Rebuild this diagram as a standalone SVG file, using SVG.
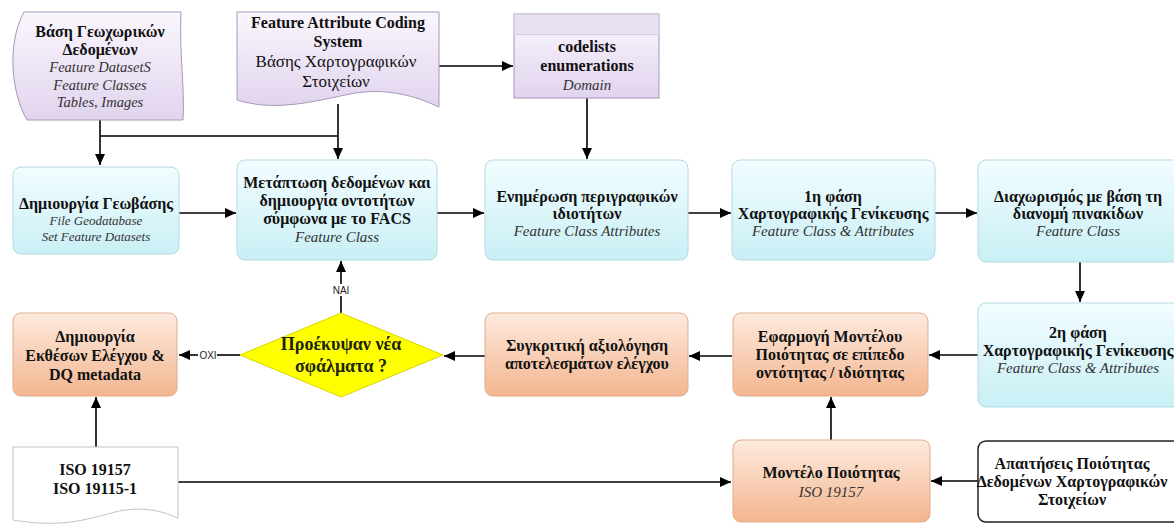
<svg xmlns="http://www.w3.org/2000/svg" width="1174" height="527" viewBox="0 0 1174 527">
  <defs>
    <linearGradient id="gCyan" x1="0" y1="0" x2="0" y2="1">
      <stop offset="0" stop-color="#f2fdff"/>
      <stop offset="1" stop-color="#c9eff5"/>
    </linearGradient>
    <linearGradient id="gPeach" x1="0" y1="0" x2="0" y2="1">
      <stop offset="0" stop-color="#fdeadf"/>
      <stop offset="1" stop-color="#f3b68f"/>
    </linearGradient>
    <linearGradient id="gLav" x1="0" y1="0" x2="0" y2="1">
      <stop offset="0" stop-color="#faf6fd"/>
      <stop offset="1" stop-color="#e1d4ee"/>
    </linearGradient>
    <marker id="arr" viewBox="0 0 11 10" refX="11" refY="5" markerWidth="11" markerHeight="10" markerUnits="userSpaceOnUse" orient="auto">
      <path d="M0,0 L11,5 L0,10 Z" fill="#000"/>
    </marker>
    <style>
      .cyan { fill: url(#gCyan); stroke: #b3dbe2; stroke-width: 1; }
      .peach { fill: url(#gPeach); stroke: #e2ab8a; stroke-width: 1; }
      .lav { fill: url(#gLav); stroke: #a898b8; stroke-width: 1; }
      .plain { fill: #fff; stroke: #222; stroke-width: 1.5; }
      .paper { fill: #fff; stroke: #c4c4c4; stroke-width: 1; }
      .dia { fill: #ffff00; stroke: #d6d600; stroke-width: 1; }
      text { font-family: "Liberation Serif", "Times New Roman", serif; fill: #111; text-anchor: middle; }
      .b { font-weight: bold; font-size: 16px; }
      .r { font-size: 17px; }
      .i { font-style: italic; font-size: 15px; fill: #333; }
      .i13 { font-size: 13px; }
      .i14 { font-size: 14.5px; }
      .dt { font-weight: bold; font-size: 18px; fill: #1c2410; }
      .lbl { font-family: "Liberation Sans", Arial, sans-serif; font-size: 10px; fill: #222; }
      .c { fill: none; stroke: #000; stroke-width: 1.6; }
      .ca { fill: none; stroke: #000; stroke-width: 1.6; marker-end: url(#arr); }
    </style>
  </defs>

  <!-- connectors -->
  <g id="connectors">
    <path class="ca" d="M100,120 V165"/>
    <path class="c" d="M100,136 H338"/>
    <path class="ca" d="M338,104 V159"/>
    <path class="ca" d="M439,66 H513"/>
    <path class="ca" d="M587,98 V159"/>
    <path class="ca" d="M179,213 H236"/>
    <path class="ca" d="M437,213 H484"/>
    <path class="ca" d="M688,213 H731"/>
    <path class="ca" d="M935,213 H977"/>
    <path class="ca" d="M1080,262 V302"/>
    <path class="ca" d="M978,355 H929"/>
    <path class="ca" d="M732,356 H689"/>
    <path class="ca" d="M485,356 H444"/>
    <path class="c" d="M341,313 V296"/>
    <path class="ca" d="M341,284 V261"/>
    <text class="lbl" x="341" y="294">NAI</text>
    <path class="c" d="M240,355 H217"/>
    <path class="ca" d="M198,355 H179"/>
    <text class="lbl" x="208" y="359">OXI</text>
    <path class="ca" d="M96,450 V397"/>
    <path class="ca" d="M178,482 H731"/>
    <path class="ca" d="M831,440 V397"/>
    <path class="ca" d="M978,481 H931"/>
  </g>

  <!-- source documents -->
  <g id="doc-geodata">
    <path class="lav" d="M24,12 H181 C179,50 185,90 183,120 H27 C12,95 6,45 24,12 Z"/>
    <text class="b" x="100" y="37">Βάση Γεωχωρικών</text>
    <text class="b" x="100" y="55">Δεδομένων</text>
    <text class="i i14" x="100" y="72">Feature DatasetS</text>
    <text class="i i14" x="100" y="90">Feature Classes</text>
    <text class="i i14" x="100" y="107">Tables, Images</text>
  </g>

  <g id="doc-facs">
    <path class="lav" d="M237,12 H439 V107 C415,96 385,86 345,95 C300,105 270,110 237,100 Z"/>
    <text class="b" x="338" y="28">Feature Attribute Coding</text>
    <text class="b" x="338" y="47">System</text>
    <text class="r" x="336" y="67">Βάσης Χαρτογραφικών</text>
    <text class="r" x="336" y="87">Στοιχείων</text>
  </g>

  <g id="codelists">
    <rect class="lav" x="514" y="14" width="145" height="84"/>
    <rect x="514.5" y="14.5" width="144" height="20" fill="#e9e0f2"/>
    <line x1="514" y1="34.5" x2="659" y2="34.5" stroke="#d8cce6" stroke-width="1"/>
    <text class="b" x="587" y="52">codelists</text>
    <text class="b" x="587" y="71">enumerations</text>
    <text class="i" x="587" y="90">Domain</text>
  </g>

  <!-- processing row -->
  <g id="create-gdb">
    <rect class="cyan" x="13" y="167" width="166" height="87" rx="8"/>
    <text class="b" x="96" y="209">Δημιουργία Γεωβάσης</text>
    <text class="i i13" x="96" y="225">File Geodatabase</text>
    <text class="i i13" x="96" y="241">Set Feature Datasets</text>
  </g>

  <g id="convert">
    <rect class="cyan" x="237" y="160" width="200" height="100" rx="8"/>
    <text class="b" x="337" y="188">Μετάπτωση δεδομένων και</text>
    <text class="b" x="337" y="206">δημιουργία οντοτήτων</text>
    <text class="b" x="337" y="224">σύμφωνα με το FACS</text>
    <text class="i" x="337" y="242">Feature Class</text>
  </g>

  <g id="update-attrs">
    <rect class="cyan" x="485" y="160" width="203" height="100" rx="8"/>
    <text class="b" x="587" y="202">Ενημέρωση περιγραφικών</text>
    <text class="b" x="587" y="219">ιδιοτήτων</text>
    <text class="i" x="587" y="236">Feature Class Attributes</text>
  </g>

  <g id="gen-phase1">
    <rect class="cyan" x="732" y="160" width="203" height="100" rx="8"/>
    <text class="b" x="833" y="202">1η φάση</text>
    <text class="b" x="833" y="219">Χαρτογραφικής Γενίκευσης</text>
    <text class="i" x="833" y="236">Feature Class &amp; Attributes</text>
  </g>

  <g id="split">
    <rect class="cyan" x="978" y="160" width="203" height="102" rx="8"/>
    <text class="b" x="1078" y="202">Διαχωρισμός με βάση τη</text>
    <text class="b" x="1078" y="219">διανομή πινακίδων</text>
    <text class="i" x="1078" y="236">Feature Class</text>
  </g>

  <g id="gen-phase2">
    <rect class="cyan" x="978" y="303" width="203" height="104" rx="8"/>
    <text class="b" x="1078" y="338">2η φάση</text>
    <text class="b" x="1078" y="356">Χαρτογραφικής Γενίκευσης</text>
    <text class="i" x="1078" y="373">Feature Class &amp; Attributes</text>
  </g>

  <!-- quality row -->
  <g id="apply-model">
    <rect class="peach" x="733" y="313" width="195" height="83" rx="8"/>
    <text class="b" x="830" y="342">Εφαρμογή Μοντέλου</text>
    <text class="b" x="830" y="360">Ποιότητας σε επίπεδο</text>
    <text class="b" x="830" y="378">οντότητας / ιδιότητας</text>
  </g>

  <g id="compare">
    <rect class="peach" x="485" y="313" width="203" height="83" rx="8"/>
    <text class="b" x="587" y="351">Συγκριτική αξιολόγηση</text>
    <text class="b" x="587" y="369">αποτελεσμάτων ελέγχου</text>
  </g>

  <g id="decision">
    <path class="dia" d="M341,313 L443,355 L341,397 L240,355 Z"/>
    <text class="dt" x="341" y="350">Προέκυψαν νέα</text>
    <text class="dt" x="341" y="372">σφάλματα ?</text>
  </g>

  <g id="reports">
    <rect class="peach" x="13" y="313" width="164" height="83" rx="8"/>
    <text class="b" x="95" y="342">Δημιουργία</text>
    <text class="b" x="95" y="361">Εκθέσων Ελέγχου &amp;</text>
    <text class="b" x="95" y="380">DQ metadata</text>
  </g>

  <!-- standards and requirements -->
  <g id="iso-docs">
    <path class="paper" d="M13,447 H178 V518 C160,510 140,506 115,512 C85,520 60,528 13,520 Z"/>
    <text class="b" x="95" y="475">ISO 19157</text>
    <text class="b" x="95" y="494">ISO 19115-1</text>
  </g>

  <g id="quality-model">
    <rect class="peach" x="733" y="440" width="197" height="82" rx="8"/>
    <text class="b" x="831" y="478">Μοντέλο Ποιότητας</text>
    <text class="i" x="831" y="497">ISO 19157</text>
  </g>

  <g id="requirements">
    <rect class="plain" x="978" y="441" width="210" height="81" rx="8"/>
    <text class="b" x="1072" y="469">Απαιτήσεις Ποιότητας</text>
    <text class="b" x="1072" y="487">Δεδομένων Χαρτογραφικών</text>
    <text class="b" x="1072" y="505">Στοιχείων</text>
  </g>
</svg>
